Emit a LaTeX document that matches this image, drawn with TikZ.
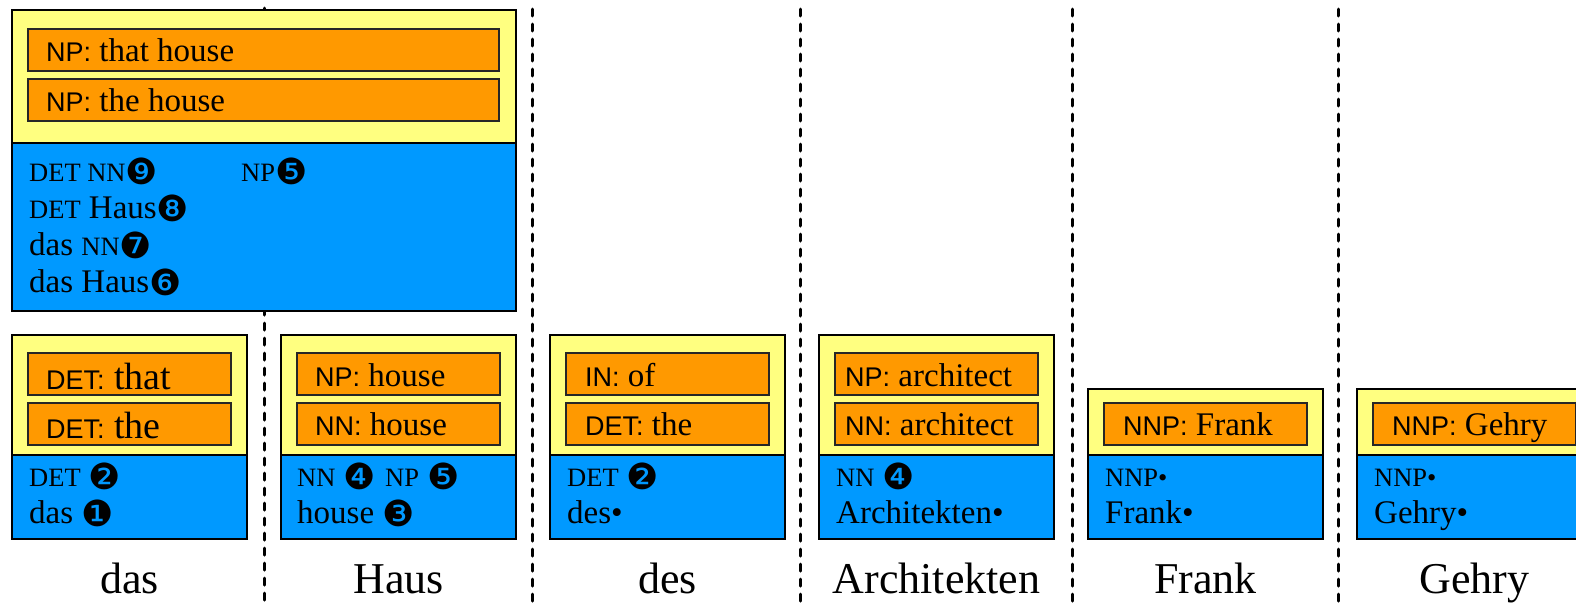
\documentclass[tikz,border=0pt]{standalone}
\usepackage{fontspec}
\setmainfont{Liberation Serif}
\newfontfamily\SansF{Liberation Sans}
\newfontfamily\DingF{DejaVu Sans}
\definecolor{ylw}{HTML}{FFFF80}
\definecolor{org}{HTML}{FF9900}
\definecolor{blu}{HTML}{0099FF}
\newcommand\Fsz[1]{\fontsize{#1}{#1}\selectfont}
\newcommand\Tg[1]{{\SansF\Fsz{27}#1:}}
\newcommand\Sm[1]{{\Fsz{26.5}#1}}
\newcommand\Cn[1]{\raisebox{-3pt}{\DingF\Fsz{36}#1}}
\begin{document}
\begin{tikzpicture}[x=1pt,y=-1pt,
  ybox/.style={draw=black, line width=1.5pt, fill=ylw, inner sep=0pt, outer sep=0pt, anchor=north west},
  bbox/.style={draw=black, line width=1.5pt, fill=blu, inner sep=0pt, outer sep=0pt, anchor=north west},
  obox/.style={draw=black!85, line width=1.5pt, fill=org, inner sep=0pt, outer sep=0pt, anchor=north west, minimum width=203pt},
  otxt/.style={anchor=base west, inner sep=0pt, font=\Fsz{33}},
  btxt/.style={anchor=base west, inner sep=0pt, font=\Fsz{33}},
  word/.style={anchor=base, inner sep=0pt, font=\Fsz{44}},
  sepline/.style={line width=3pt, line cap=round, dash pattern=on 7pt off 8pt}]
\useasboundingbox (0,0) rectangle (1576,603);
\clip (0,0) rectangle (1576,603);
% separators
\foreach \sx/\sy in {264/8, 532/9, 800/9, 1072/9, 1338/9}
  \draw[sepline] (\sx,\sy) -- (\sx,603);
% top combined box
\node[ybox, minimum width=504pt, minimum height=133pt] (topY) at (12,10) {};
\node[bbox, minimum width=504pt, minimum height=168pt] (topB) at (12,143) {};
\node[obox, minimum width=471pt, minimum height=42pt] (topO1) at (28,29) {};
\node[obox, minimum width=471pt, minimum height=42pt] (topO2) at (28,79) {};
\node[otxt] (topT1) at (46,61) {\Tg{NP} that house};
\node[otxt] (topT2) at (46,111) {\Tg{NP} the house};
\node[btxt] (topL1) at (29,181) {\Sm{DET NN}\Cn{❾}};
\node[btxt] (topL1b) at (241,181) {\Sm{NP}\Cn{❺}};
\node[btxt] (topL2) at (29,218) {\Sm{DET} Haus\Cn{❽}};
\node[btxt] (topL3) at (29,255) {das \Sm{NN}\Cn{❼}};
\node[btxt] (topL4) at (29,292) {das Haus\Cn{❻}};
% column boxes
\foreach \n/\X/\Ytop in {das/12/335, Haus/281/335, des/550/335, Arch/819/335, Frank/1088/389, Gehry/1357/389}{
  \pgfmathsetmacro\H{455-\Ytop}
  \node[ybox, minimum width=235pt, minimum height=\H pt] (\n Y) at (\X,\Ytop) {};
  \node[bbox, minimum width=235pt, minimum height=84pt] (\n B) at (\X,455) {};
}
% orange boxes
\foreach \n/\X in {das/12, Haus/281, des/550, Arch/819}{
  \node[obox, minimum height=42pt] (\n O1) at (\X+16,353) {};
  \node[obox, minimum height=42pt] (\n O2) at (\X+16,403) {};
}
\foreach \n/\X in {Frank/1088, Gehry/1357}
  \node[obox, minimum height=42pt] (\n O1) at (\X+16,403) {};
% orange texts
\node[otxt, font=\Fsz{38}] (dasT1) at (46,389) {\Tg{DET} that};
\node[otxt, font=\Fsz{38}] (dasT2) at (46,438) {\Tg{DET} the};
\node[otxt] (HausT1) at (315,386) {\Tg{NP} house};
\node[otxt] (HausT2) at (315,435) {\Tg{NN} house};
\node[otxt] (desT1) at (585,386) {\Tg{IN} of};
\node[otxt] (desT2) at (585,435) {\Tg{DET} the};
\node[otxt] (ArchT1) at (845,386) {\Tg{NP} architect};
\node[otxt] (ArchT2) at (845,435) {\Tg{NN} architect};
\node[otxt] (FrankT1) at (1123,435) {\Tg{NNP} Frank};
\node[otxt] (GehryT1) at (1392,435) {\Tg{NNP} Gehry};
% blue texts
\node[btxt] (dasL1) at (29,486) {\Sm{DET} \Cn{❷}};
\node[btxt] (dasL2) at (29,523) {das \Cn{❶}};
\node[btxt] (HausL1) at (297,486) {\Sm{NN} \Cn{❹}};
\node[btxt] (HausL1b) at (385,486) {\Sm{NP} \Cn{❺}};
\node[btxt] (HausL2) at (297,523) {house \Cn{❸}};
\node[btxt] (desL1) at (567,486) {\Sm{DET} \Cn{❷}};
\node[btxt] (desL2) at (567,523) {des•};
\node[btxt] (ArchL1) at (836,486) {\Sm{NN} \Cn{❹}};
\node[btxt] (ArchL2) at (836,523) {Architekten•};
\node[btxt] (FrankL1) at (1105,486) {\Sm{NNP•}};
\node[btxt] (FrankL2) at (1105,523) {Frank•};
\node[btxt] (GehryL1) at (1374,486) {\Sm{NNP•}};
\node[btxt] (GehryL2) at (1374,523) {Gehry•};
% words
\node[word] (wdas) at (129.5,593) {das};
\node[word] (wHaus) at (398.5,593) {Haus};
\node[word] (wdes) at (667.5,593) {des};
\node[word] (wArch) at (936.5,593) {Architekten};
\node[word] (wFrank) at (1205.5,593) {Frank};
\node[word] (wGehry) at (1474.5,593) {Gehry};
\end{tikzpicture}
\end{document}
